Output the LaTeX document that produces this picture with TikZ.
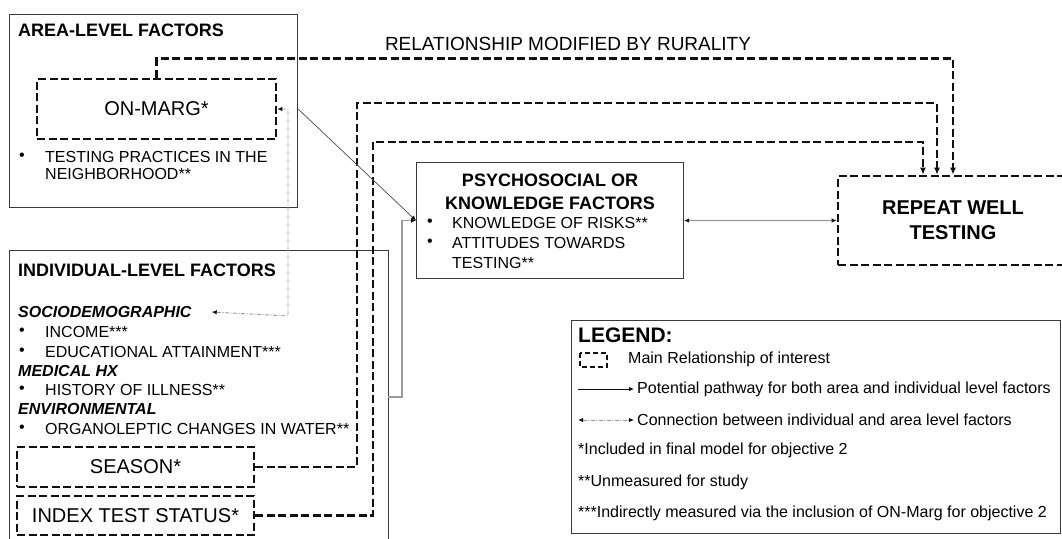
\documentclass[tikz,border=0pt]{standalone}
\usepackage{fontspec}
\setmainfont{Liberation Sans}
\usepackage{xcolor}
\usetikzlibrary{arrows.meta,positioning}
\definecolor{wellink}{HTML}{111111}
\definecolor{wellframe}{HTML}{3A3A3A}
\definecolor{wellgrey}{HTML}{9A9A9A}
\definecolor{welldiag}{HTML}{4A4A4A}
\newcommand{\wellhead}{\fontsize{18}{21}\selectfont\bfseries}
\newcommand{\wellbig}{\fontsize{20}{24}\selectfont}
\newcommand{\welltxt}{\fontsize{16}{17}\selectfont}
\newcommand{\wellkey}{\fontsize{16}{19}\selectfont}
\tikzset{
  panel/.style={draw=wellframe, line width=1.1, inner sep=0, anchor=north west},
  mainbox/.style={draw=wellink, line width=2.7, dash pattern=on 8pt off 3.5pt, inner sep=0},
  mainrel/.style={wellink, line width=2.7, dash pattern=on 8pt off 3.5pt, -{Latex[length=7pt,width=6pt]}},
  pathway/.style={wellgrey, line width=1.1},
  areaind/.style={wellgrey, line width=0.9, dash pattern=on 4pt off 1.5pt on 1pt off 1.5pt},
  smalltip/.style={-{Latex[length=5pt,width=4.5pt,color=wellink]}},
  head/.style={anchor=west, inner sep=0, font=\wellhead},
  item/.style={anchor=west, inner sep=0, font=\welltxt},
  subhead/.style={anchor=west, inner sep=0, font=\welltxt\bfseries\itshape},
  keytxt/.style={anchor=west, inner sep=0, font=\wellkey}
}

\begin{document}
\begin{tikzpicture}[x=1pt, y=1pt]
  \useasboundingbox (0,0) rectangle (1062,-538);
  % area-level panel
  \node[panel, minimum width=288, minimum height=193] (area) at (9,-14) {};
  \node[head] (areahead) at (18,-30) {AREA-LEVEL FACTORS};
  \node[mainbox, minimum width=239, minimum height=60, font=\wellbig] (onmarg) at (156.5,-109) {ON-MARG*};
  \node[item] (areabul) at (19,-157) {\textbullet};
  \node[item, align=left] (testing) at (45,-165) {TESTING PRACTICES IN THE\\NEIGHBORHOOD**};
  % individual-level panel
  \node[panel, minimum width=379, minimum height=300] (indiv) at (9,-250) {};
  \node[head] (indivhead) at (18,-270) {INDIVIDUAL-LEVEL FACTORS};
  \node[subhead] (socio) at (18,-312) {SOCIODEMOGRAPHIC};
  \node[item] (incomeb) at (19,-332) {\textbullet};
  \node[item] (income) at (45,-332) {INCOME***};
  \node[item] (educb) at (19,-352) {\textbullet};
  \node[item] (educ) at (45,-352) {EDUCATIONAL ATTAINMENT***};
  \node[subhead] (medical) at (18,-371) {MEDICAL HX};
  \node[item] (illnessb) at (19,-390) {\textbullet};
  \node[item] (illness) at (45,-390) {HISTORY OF ILLNESS**};
  \node[subhead] (environ) at (18,-409) {ENVIRONMENTAL};
  \node[item] (organob) at (19,-429) {\textbullet};
  \node[item] (organo) at (45,-429) {ORGANOLEPTIC CHANGES IN WATER**};
  \node[mainbox, minimum width=237, minimum height=40, font=\wellbig] (season) at (135.5,-467) {SEASON*};
  \node[mainbox, minimum width=237, minimum height=39, font=\wellbig] (index) at (135.5,-515.5) {INDEX TEST STATUS*};
  % psychosocial panel
  \node[panel, minimum width=267, minimum height=116] (psych) at (416,-162) {};
  \node[font=\wellhead, align=center, inner sep=0] (psychhead) at (550,-191.5) {PSYCHOSOCIAL OR\\[2pt]KNOWLEDGE FACTORS};
  \node[item] (risksb) at (427,-223) {\textbullet};
  \node[item] (risks) at (452,-223) {KNOWLEDGE OF RISKS**};
  \node[item] (attitb) at (427,-243) {\textbullet};
  \node[item, align=left] (attit) at (452,-253) {ATTITUDES TOWARDS\\[3pt]TESTING**};
  % outcome
  \node[mainbox, minimum width=230, minimum height=89, align=center, font=\fontsize{20}{25}\selectfont\bfseries] (repeat) at (953,-220.5) {REPEAT WELL\\TESTING};
  \node[font=\fontsize{19}{22}\selectfont, inner sep=0] (rural) at (568,-44) {RELATIONSHIP MODIFIED BY RURALITY};
  % main relationships
  \draw[mainrel] (onmarg.north) -- ++(0,19) -| (repeat.north);
  \coordinate (seasonup) at (357,-103);
  \coordinate (indexup) at (373,-142);
  \draw[mainrel] (season.east) -| (seasonup) -| ([xshift=-16]repeat.north);
  \draw[mainrel] (index.east) -| (indexup) -| ([xshift=-30]repeat.north);
  % pathways
  \coordinate (areaout) at (area.east |- onmarg.east);
  \coordinate (indout) at (388,-397);
  \draw[welldiag, line width=0.7, smalltip] (areaout) -- (psych.west);
  \draw[pathway, smalltip] (indout) -- ++(14,0) |- (psych.west);
  \draw[pathway, {Latex[length=5pt,width=4.5pt,color=wellink]}-{Latex[length=5pt,width=4.5pt,color=wellink]}] (psych.east) -- (repeat.west);
  \draw[areaind, {Latex[length=5pt,width=4.5pt,color=wellink]}-{Latex[length=5pt,width=4.5pt,color=wellink]}] (onmarg.east) -| (288,-316) -- ([xshift=20]socio.east);
  % legend
  \node[panel, minimum width=489, minimum height=213] (legend) at (571,-320) {};
  \node[anchor=west, inner sep=0, font=\fontsize{21}{24}\selectfont\bfseries] (legendhead) at (578,-335) {LEGEND:};
  \draw[wellink, line width=2.2, dash pattern=on 5pt off 3pt] (580,-353) rectangle (607,-367);
  \node[keytxt] (keymain) at (628,-359) {Main Relationship of interest};
  \coordinate (keypathA) at (578,-389);
  \coordinate (keypathB) at (634,-389);
  \draw[wellink, line width=0.8, smalltip] (keypathA) -- (keypathB);
  \node[keytxt] (keypath) at (637,-389) {Potential pathway for both area and individual level factors};
  \coordinate (keyconnA) at (578,-420);
  \coordinate (keyconnB) at (634,-420);
  \draw[areaind, {Latex[length=5pt,width=4.5pt,color=wellink]}-{Latex[length=5pt,width=4.5pt,color=wellink]}] (keyconnA) -- (keyconnB);
  \node[keytxt] (keyconn) at (637,-420) {Connection between individual and area level factors};
  \node[keytxt] (keyone) at (578,-450) {*Included in final model for objective 2};
  \node[keytxt] (keytwo) at (578,-482) {**Unmeasured for study};
  \node[keytxt] (keythree) at (578,-513) {***Indirectly measured via the inclusion of ON-Marg for objective 2};
\end{tikzpicture}
\end{document}
